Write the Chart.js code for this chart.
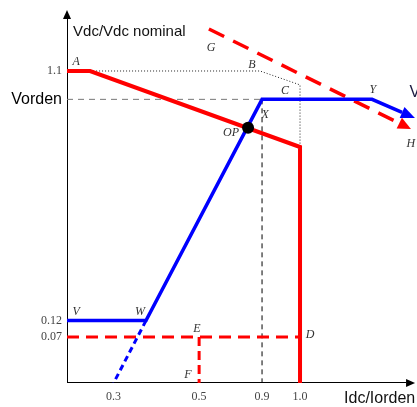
<!DOCTYPE html>
<html>
<head>
<meta charset="utf-8">
<script src="https://cdn.jsdelivr.net/npm/chart.js@4"></script>
<style>
  body { margin: 0; background: #fff; }
  #wrap { width: 417px; height: 407px; position: relative; }
</style>
</head>
<body>
<div id="wrap"><canvas id="diagram"></canvas></div>
<script>
// schematic units: the picture is not drawn to scale, so ticks sit where the picture puts them
const tickX = [0.2, 0.567, 0.837, 1.0];
const tickXLabels = ["0.3", "0.5", "0.9", "1.0"];
const tickY = [0.162, 0.22, 1.0, 1.1];
const tickYLabels = ["0.07", "0.12", "Vorden", "1.1"];

// red current limit A - ... - D
const limitX = [0, 0.099, 1.0, 1.0];
const limitY = [1.1, 1.1, 0.832, 0];
// dotted envelope through B and C
const envelopeX = [0.099, 0.828, 1.0, 1.0];
const envelopeY = [1.1, 1.1, 1.051, 0.832];
// blue droop V - W - X - Y and arrow
const droopX = [0, 0.339, 0.837, 1.309, 1.438];
const droopY = [0.22, 0.22, 1.0, 1.0, 0.954];
const droopExtX = [0.339, 0.2];
const droopExtY = [0.22, 0];
// red dashed minimum E - D and E - F
const minX = [0, 1.0];
const minY = [0.162, 0.162];
const minDropX = [0.567, 0.567];
const minDropY = [0.162, 0];
// red dashed shifted limit G - H
const shiftX = [0.609, 1.426];
const shiftY = [1.248, 0.916];
// reference lines at Vorden / 0.9
const refX = [0, 0.837];
const refY = [1.0, 1.0];
const refDropX = [0.837, 0.837];
const refDropY = [1.0, 0];
// operating point
const opX = [0.777];
const opY = [0.9];
// axes
const axisX = [0, 1.455];
const axisY = [0, 1.283];

// point labels
const labelNames = ["A", "B", "C", "X", "OP", "Y", "G", "H", "V", "W", "E", "F", "D"];
const labelX = [0.039, 0.794, 0.936, 0.85, 0.704, 1.313, 0.618, 1.476, 0.039, 0.313, 0.558, 0.519, 1.043];
const labelY = [1.132, 1.121, 1.029, 0.945, 0.881, 1.033, 1.181, 0.843, 0.25, 0.25, 0.19, 0.028, 0.169];

function pts(xs, ys) {
  return xs.map((x, i) => ({ x: x, y: ys[i] }));
}

function line(xs, ys, color, width, dash, extra) {
  return Object.assign({
    data: pts(xs, ys),
    showLine: true,
    borderColor: color,
    backgroundColor: color,
    borderWidth: width,
    borderDash: dash || [],
    pointRadius: 0,
    fill: false,
  }, extra || {});
}

const annotate = {
  id: "annotate",
  afterDatasetsDraw(chart) {
    const ctx = chart.ctx;
    const x = chart.scales.x, y = chart.scales.y;

    // arrow heads at the end of flagged lines
    chart.data.datasets.forEach((ds, i) => {
      if (!ds.arrow) return;
      const p = chart.getDatasetMeta(i).data;
      const a = p[p.length - 2], b = p[p.length - 1];
      const ang = Math.atan2(b.y - a.y, b.x - a.x);
      ctx.save();
      ctx.translate(b.x, b.y);
      ctx.rotate(ang);
      ctx.beginPath();
      ctx.moveTo(ds.arrow[0], 0);
      ctx.lineTo(0, -ds.arrow[1]);
      ctx.lineTo(0, ds.arrow[1]);
      ctx.closePath();
      ctx.fillStyle = ds.borderColor;
      ctx.fill();
      ctx.restore();
    });

    ctx.save();
    ctx.textBaseline = "middle";
    ctx.textAlign = "center";
    ctx.fillStyle = "#333";
    ctx.font = "italic 12px 'Liberation Serif'";
    labelNames.forEach((t, i) => {
      ctx.fillText(t, x.getPixelForValue(labelX[i]), y.getPixelForValue(labelY[i]));
    });

    ctx.textAlign = "left";
    ctx.fillStyle = "#111";
    ctx.font = "15px 'Liberation Sans'";
    ctx.fillText("Vdc/Vdc nominal", x.getPixelForValue(0.026), y.getPixelForValue(1.2375));
    ctx.font = "16px 'Liberation Sans'";
    ctx.fillText("Idc/Iorden", x.getPixelForValue(1.189), y.getPixelForValue(-0.056));
    ctx.fillStyle = "#1a1a40";
    ctx.fillText("V", x.getPixelForValue(1.47), y.getPixelForValue(1.025));
    ctx.restore();
  }
};

new Chart(document.getElementById("diagram"), {
  type: "scatter",
  data: {
    datasets: [
      line(opX, opY, "#000", 0, null, { showLine: false, pointRadius: 6, pointHoverRadius: 6, order: 0 }),
      line(droopX, droopY, "#0000ff", 3.5, null, { arrow: [14, 6], order: 1 }),
      line(droopExtX, droopExtY, "#0000ff", 3, [6, 4], { order: 1 }),
      line(limitX, limitY, "#ff0000", 4, null, { order: 2 }),
      line(shiftX, shiftY, "#ff0000", 3.5, [17, 10], { arrow: [13, 6], order: 2 }),
      line(minX, minY, "#ff0000", 3, [12, 7], { order: 3 }),
      line(minDropX, minDropY, "#ff0000", 3, [9, 5], { order: 3 }),
      line(envelopeX, envelopeY, "#222", 1, [1, 2], { order: 4 }),
      line(refX, refY, "#777", 1, [6, 5], { order: 4 }),
      line(refDropX, refDropY, "#000", 1, [5, 4], { order: 4 }),
      line(axisX, [0, 0], "#000", 2, null, { arrow: [9, 4], order: 5 }),
      line([0, 0], axisY, "#000", 2, null, { arrow: [9, 4], order: 5 }),
    ],
  },
  options: {
    responsive: true,
    maintainAspectRatio: false,
    animation: false,
    layout: { padding: 0, autoPadding: false },
    plugins: {
      legend: { display: false },
      tooltip: { enabled: false },
    },
    scales: {
      x: {
        type: "linear",
        min: 0,
        max: 1.502,
        grid: { display: false, drawTicks: false },
        border: { display: false },
        afterBuildTicks: (s) => { s.ticks = tickX.map((v) => ({ value: v })); },
        afterFit: (s) => { s.height = 24; s.paddingLeft = 0; s.paddingRight = 0; },
        ticks: {
          padding: 7,
          autoSkip: false,
          maxRotation: 0,
          color: "#444",
          font: { family: "'Liberation Serif'", size: 12 },
          callback: (v) => tickXLabels[tickX.indexOf(v)],
        },
      },
      y: {
        type: "linear",
        min: 0,
        max: 1.3503,
        grid: { display: false, drawTicks: false },
        border: { display: false },
        afterBuildTicks: (s) => { s.ticks = tickY.map((v) => ({ value: v })); },
        afterFit: (s) => { s.width = 67; s.paddingTop = 0; s.paddingBottom = 0; },
        ticks: {
          padding: 5,
          autoSkip: false,
          color: (c) => (c.tick && c.tick.value === 1.0 ? "#000" : "#444"),
          font: (c) => (c.tick && c.tick.value === 1.0
            ? { family: "'Liberation Sans'", size: 16 }
            : { family: "'Liberation Serif'", size: 12 }),
          callback: (v) => tickYLabels[tickY.indexOf(v)],
        },
      },
    },
  },
  plugins: [annotate],
});
</script>
</body>
</html>
